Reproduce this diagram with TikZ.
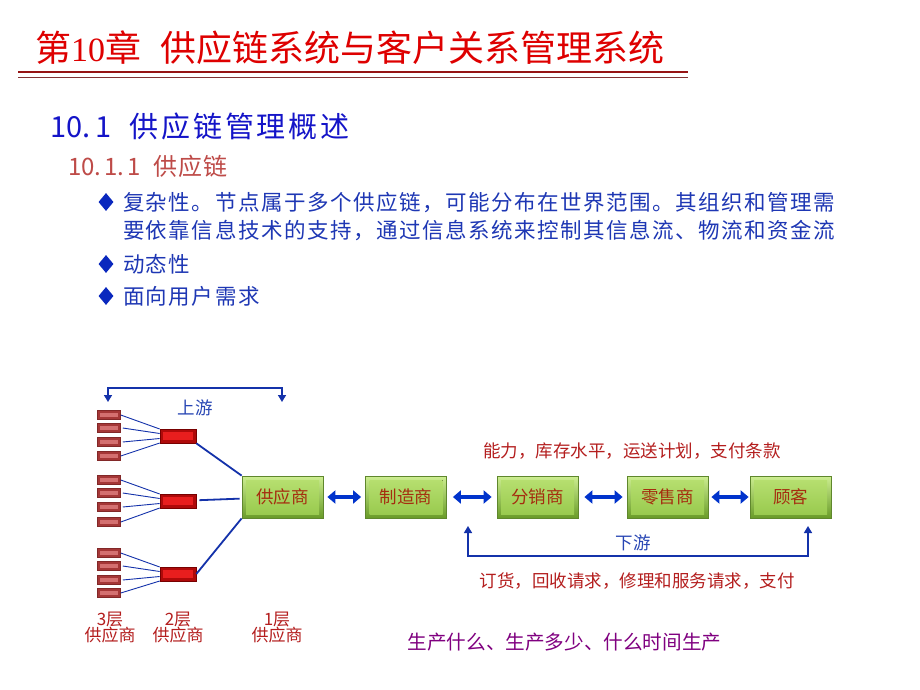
\documentclass[tikz,border=0pt]{standalone}
\usepackage{fontspec}
\setmainfont{Noto Sans CJK SC}
\newfontfamily\serifd{Liberation Serif}
\newfontfamily\cjkA[LetterSpace=10]{Noto Sans CJK SC}
\newfontfamily\cjkB[LetterSpace=4]{Noto Sans CJK SC}
\newfontfamily\cjkC[LetterSpace=7]{Noto Sans CJK SC}
\usetikzlibrary{arrows.meta,shapes.geometric}
\definecolor{titlered}{RGB}{222,0,0}
\definecolor{rulered}{RGB}{150,20,20}
\definecolor{rulered2}{RGB}{130,50,50}
\definecolor{headblue}{RGB}{20,20,200}
\definecolor{subred}{RGB}{190,75,72}
\definecolor{bodyblue}{RGB}{30,55,180}
\definecolor{bulblue}{RGB}{10,40,190}
\definecolor{boxtext}{RGB}{165,45,15}
\definecolor{diagred}{RGB}{180,30,30}
\definecolor{labblue}{RGB}{40,70,180}
\definecolor{linkblue}{RGB}{20,50,170}
\definecolor{arrblue}{RGB}{0,51,204}
\definecolor{purp}{RGB}{128,0,128}
\definecolor{gtop}{RGB}{205,238,145}
\definecolor{gbot}{RGB}{105,155,40}
\definecolor{gin1}{RGB}{185,225,115}
\definecolor{gin2}{RGB}{150,200,75}
\definecolor{gborder}{RGB}{95,135,45}
\definecolor{rA}{RGB}{165,55,55}
\definecolor{rAin}{RGB}{212,112,112}
\definecolor{rAb}{RGB}{130,40,40}
\definecolor{rB}{RGB}{175,10,10}
\definecolor{rBin}{RGB}{232,30,30}
\definecolor{rBb}{RGB}{120,0,0}
\begin{document}
\begin{tikzpicture}[x=1pt,y=-1pt,
  txt/.style={anchor=base west,inner sep=0pt,outer sep=0pt},
  ctxt/.style={anchor=base,inner sep=0pt,outer sep=0pt},
  gbox/.style={minimum width=81pt,minimum height=42pt,inner sep=0pt,draw=gborder,line width=0.8pt,
    top color=gtop,bottom color=gbot,text=boxtext,font=\fontsize{17.5}{20}\selectfont,
    path picture={\fill[top color=gin1,bottom color=gin2]
      ([xshift=4pt,yshift=-4pt]path picture bounding box.north west) rectangle
      ([xshift=-4pt,yshift=4pt]path picture bounding box.south east);}},
  tbox/.style={minimum width=23pt,minimum height=9pt,inner sep=0pt,draw=rAb,line width=0.5pt,fill=rA,
    path picture={\fill[rAin]
      ([xshift=2.5pt,yshift=-2.5pt]path picture bounding box.north west) rectangle
      ([xshift=-2.5pt,yshift=2.5pt]path picture bounding box.south east);}},
  sbox/.style={minimum width=36pt,minimum height=14pt,inner sep=0pt,draw=rBb,line width=0.6pt,fill=rB,
    path picture={\fill[rBin]
      ([xshift=3pt,yshift=-3pt]path picture bounding box.north west) rectangle
      ([xshift=-3pt,yshift=3pt]path picture bounding box.south east);}},
  dbl/.style={draw=arrblue,line width=4.5pt,{Triangle[length=8pt,width=13pt]}-{Triangle[length=8pt,width=13pt]}},
  tline/.style={draw=linkblue,line width=1.8pt},
  fline/.style={draw=linkblue,line width=0.9pt},
  brk/.style={draw=linkblue,line width=1.5pt,{Triangle[length=7pt,width=8pt]}-{Triangle[length=7pt,width=8pt]}},
  bul/.style={shape=diamond,fill=bulblue,minimum width=15pt,minimum height=18pt,inner sep=0pt}
]
\useasboundingbox (0,0) rectangle (920,690);
\fill[white] (0,0) rectangle (920,690);

% title
\node[txt,text=titlered] (title) at (35,62) {\fontsize{36}{40}\selectfont 第{\serifd\fontsize{34}{40}\selectfont 10}章\hspace{20pt}供应链系统与客户关系管理系统};
\coordinate (r1a) at (18,72); \coordinate (r1b) at (688,72);
\coordinate (r2a) at (18,78); \coordinate (r2b) at (688,78);
\draw[rulered,line width=2.8pt] (r1a) -- (r1b);
\draw[rulered2,line width=1pt] (r2a) -- (r2b);

% headings
\node[txt,text=headblue] (h1) at (50,137) {\fontsize{29}{34}\selectfont 10.\hspace{5pt}1\hspace{18pt}\cjkA\fontsize{29}{34}\selectfont 供应链管理概述};
\node[txt,text=subred] (h2) at (68,175) {\fontsize{24}{28}\selectfont 10.\hspace{3pt}1.\hspace{3pt}1\hspace{13pt}\cjkB\fontsize{24}{28}\selectfont 供应链};

% bullets
\node[bul] (b1) at (106,202) {};
\node[bul] (b2) at (106,264) {};
\node[bul] (b3) at (106,296) {};
\node[txt,text=bodyblue] (t1) at (123,210) {\cjkC\fontsize{21.5}{26}\selectfont 复杂性。节点属于多个供应链，可能分布在世界范围。其组织和管理需};
\node[txt,text=bodyblue] (t1b) at (123,238) {\cjkC\fontsize{21.5}{26}\selectfont 要依靠信息技术的支持，通过信息系统来控制其信息流、物流和资金流};
\node[txt,text=bodyblue] (t2) at (123,272) {\cjkC\fontsize{21.5}{26}\selectfont 动态性};
\node[txt,text=bodyblue] (t3) at (123,304) {\cjkC\fontsize{21.5}{26}\selectfont 面向用户需求};

% green boxes
\node[gbox] (sup) at (282.5,497) {供应商};
\node[gbox] (mfr) at (406,497) {制造商};
\node[gbox] (dis) at (537.5,497) {分销商};
\node[gbox] (ret) at (667.5,497) {零售商};
\node[gbox] (cus) at (790.5,497) {顾客};

\draw[dbl,shorten <=4pt,shorten >=4pt] (sup) -- (mfr);
\draw[dbl,shorten <=6pt,shorten >=5pt] (mfr) -- (dis);
\draw[dbl,shorten <=6pt,shorten >=4pt] (dis) -- (ret);
\draw[dbl,shorten <=3pt,shorten >=1pt] (ret) -- (cus);

% tier 2 boxes
\node[sbox] (s1) at (178,436) {};
\node[sbox] (s2) at (178,501) {};
\node[sbox] (s3) at (178,574) {};

% tier 3 boxes
\foreach \n/\yy in {a1/415,a2/428,a3/442,a4/456,b1/480,b2/493,b3/507,b4/522,c1/553,c2/566,c3/580,c4/593}
  \node[tbox] (t\n) at (109,\yy) {};

\foreach \g/\s in {a/s1,b/s2,c/s3}{
  \draw[fline] (t\g1.east) -- ([yshift=7pt]\s.west);
  \draw[fline] ([xshift=2pt]t\g2.east) -- ([yshift=2.5pt]\s.west);
  \draw[fline] ([xshift=2pt]t\g3.east) -- ([yshift=-2.5pt]\s.west);
  \draw[fline] (t\g4.east) -- ([yshift=-7pt]\s.west);
}

\draw[tline] (s1.south east) -- (sup.north west);
\draw[tline,shorten <=3pt,shorten >=2pt] (s2) -- (sup);
\draw[tline] (s3.east) -- (sup.south west);

% upstream bracket
\coordinate (ul) at (108,402); \coordinate (ulc) at (108,388);
\coordinate (urc) at (282,388); \coordinate (ur) at (282,402);
\draw[brk] (ul) -- (ulc) -- (urc) -- (ur);
\node[ctxt,text=labblue] (up) at (195,414.5) {\fontsize{17.5}{20}\selectfont 上游};

% downstream bracket
\coordinate (dl) at (468,526); \coordinate (dlc) at (468,556);
\coordinate (drc) at (808,556); \coordinate (dr) at (808,526);
\draw[brk] (dl) -- (dlc) -- (drc) -- (dr);
\node[ctxt,text=labblue] (down) at (633,549.5) {\fontsize{17.5}{20}\selectfont 下游};

% red labels
\node[ctxt,text=diagred] (info1) at (632,457.5) {\fontsize{17.5}{20}\selectfont 能力，库存水平，运送计划，支付条款};
\node[ctxt,text=diagred] (info2) at (637,587.5) {\fontsize{17.5}{20}\selectfont 订货，回收请求，修理和服务请求，支付};

% tier labels
\node[ctxt,text=diagred] (l3) at (110,625.5) {\fontsize{17}{16}\selectfont 3层};
\node[ctxt,text=diagred] (l3b) at (110,641.5) {\fontsize{17}{16}\selectfont 供应商};
\node[ctxt,text=diagred] (l2) at (178,625.5) {\fontsize{17}{16}\selectfont 2层};
\node[ctxt,text=diagred] (l2b) at (178,641.5) {\fontsize{17}{16}\selectfont 供应商};
\node[ctxt,text=diagred] (l1) at (277,625.5) {\fontsize{17}{16}\selectfont 1层};
\node[ctxt,text=diagred] (l1b) at (277,641.5) {\fontsize{17}{16}\selectfont 供应商};

% purple
\node[ctxt,text=purp] (prod) at (564.5,649) {\fontsize{19.6}{22}\selectfont 生产什么、生产多少、什么时间生产};
\end{tikzpicture}
\end{document}
